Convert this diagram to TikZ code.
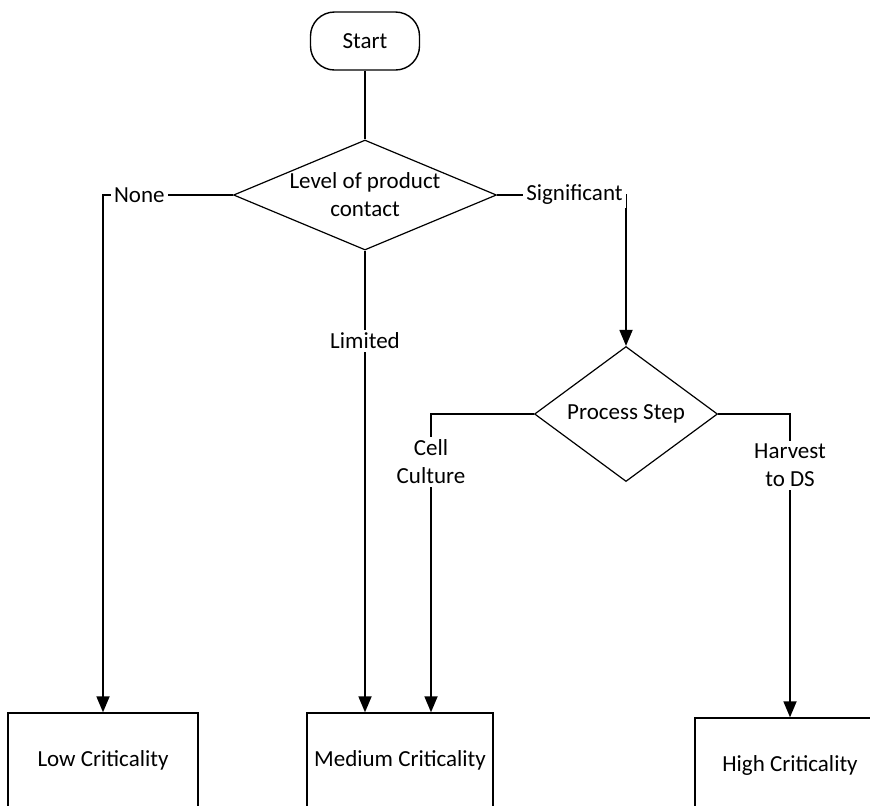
\documentclass[tikz,border=0pt]{standalone}
\usepackage{fontspec}
\setmainfont{Carlito}
\usetikzlibrary{shapes.geometric,arrows.meta}

\tikzset{
  terminal/.style={draw, line width=0.7pt, rounded corners=12pt, minimum width=54.5pt, minimum height=29pt},
  choice/.style={draw, diamond, line width=0.6pt, inner sep=0pt, align=center},
  box/.style={draw, line width=0.7pt, minimum width=95pt, minimum height=47pt, inner sep=0pt},
  flow/.style={line width=0.9pt},
  go/.style={flow, -{Triangle[length=8pt,width=6.5pt]}},
  lbl/.style={fill=white, inner sep=1.5pt, align=center}
}

\begin{document}
\begin{tikzpicture}[x=0.5pt, y=-0.5pt]\fontsize{11.5}{14}\selectfont
\useasboundingbox (0,0) rectangle (870,805);
\clip (0,0) rectangle (870,805);
\node[terminal] (start) at (365,41) {Start};
\node[choice, aspect=2.4, minimum width=131.5pt, minimum height=55pt] (contact) at (365,195) {Level of product\\contact};
\node[choice, aspect=1.36, minimum width=91.5pt, minimum height=67.5pt] (procstep) at (626,414) {Process Step};
\node[box] (low) at (103,760) {Low Criticality};
\node[box, minimum width=93pt] (medium) at (400,760) {Medium Criticality};
\node[box] (high) at (790,765) {High Criticality};
\draw[flow] (start) -- (contact);
\draw[go] (contact.west) -| node[lbl, pos=0.36] {None} (low.north);
\draw[go] (contact.east) -| node[lbl, pos=0.3] {Significant} (procstep.north);
\draw[go] (contact.south) -- node[lbl, pos=0.195] {Limited} (contact.south |- medium.north);
\draw[go] (procstep.west) -| node[lbl, pos=0.58] {Cell\\Culture} ([xshift=15.5pt]medium.north);
\draw[go] (procstep.east) -| node[lbl, pos=0.585] {Harvest\\to DS} (high.north);
\end{tikzpicture}
\end{document}
